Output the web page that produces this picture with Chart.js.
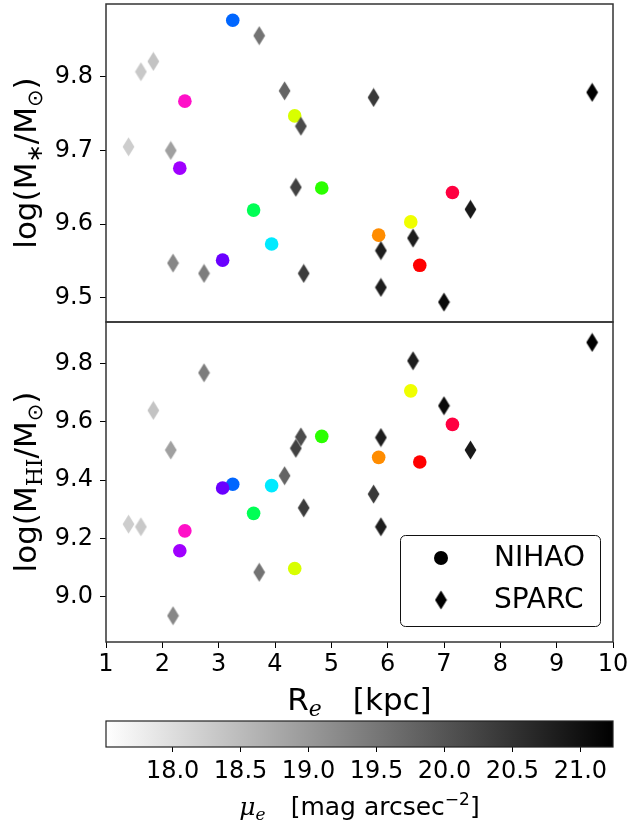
<!DOCTYPE html>
<html>
<head>
<meta charset="utf-8">
<script src="https://cdn.jsdelivr.net/npm/chart.js@4.4.1/dist/chart.umd.min.js"></script>
<style>
  html, body { margin: 0; padding: 0; background: #fff; }
  #wrap { position: relative; width: 631px; height: 823px; overflow: hidden; background: #fff; }
  #wrap canvas { position: absolute; left: 0; }
</style>
</head>
<body>
<div id="wrap">
  <canvas id="panelTop" width="631" height="330" style="top:0px"></canvas>
  <canvas id="panelBottom" width="631" height="420" style="top:300px"></canvas>
  <canvas id="colorBar" width="631" height="123" style="top:700px"></canvas>
</div>
<script>
// ---- NIHAO simulated galaxies ----
const nihaoRe      = [3.25, 2.40, 2.31, 3.07, 3.62, 3.94, 4.35, 4.83, 5.84, 6.41, 7.15, 6.57];
const nihaoLogMstar = [9.877, 9.767, 9.676, 9.551, 9.619, 9.573, 9.747, 9.649, 9.585, 9.603, 9.643, 9.544];
const nihaoLogMHI   = [9.386, 9.226, 9.158, 9.373, 9.286, 9.381, 9.097, 9.550, 9.478, 9.706, 9.591, 9.462];
const nihaoColors   = ['#0066ff', '#ff10c8', '#a000ff', '#6a00ff', '#00ff55', '#00eaff',
                       '#d8ff00', '#2aff00', '#ff8c00', '#f0ff00', '#ff0040', '#ff0000'];

// ---- SPARC observed galaxies ----
const sparcRe       = [1.40, 1.62, 1.84, 2.15, 2.19, 2.74, 3.72, 4.17, 4.46, 4.37, 4.51, 5.75, 5.88, 5.88, 6.45, 7.47, 7.00, 9.63];
const sparcLogMstar = [9.705, 9.807, 9.821, 9.700, 9.547, 9.533, 9.856, 9.781, 9.733, 9.650, 9.533, 9.772, 9.564, 9.514, 9.581, 9.620, 9.494, 9.779];
const sparcLogMHI   = [9.249, 9.240, 9.639, 9.503, 8.935, 9.768, 9.084, 9.415, 9.548, 9.509, 9.305, 9.352, 9.546, 9.240, 9.809, 9.503, 9.655, 9.872];
const sparcMuE      = [18.24, 18.31, 18.39, 18.90, 19.27, 19.41, 19.56, 19.78, 20.14, 20.29, 20.36, 20.40, 20.80, 20.80, 20.80, 20.87, 21.10, 21.24];

// ---- axes ----
const xTicks      = [1, 2, 3, 4, 5, 6, 7, 8, 9, 10];
const yTicksTop   = [9.5, 9.6, 9.7, 9.8];
const yTicksBot   = [9.0, 9.2, 9.4, 9.6, 9.8];
const muTicks     = [18.0, 18.5, 19.0, 19.5, 20.0, 20.5, 21.0];
const muRange     = [17.51, 21.24];
const legendNames = ['NIHAO', 'SPARC'];

const SANS  = "'DejaVu Sans', 'Liberation Sans', sans-serif";
const SERIF = "'DejaVu Serif', 'Liberation Serif', serif";
Chart.defaults.font.family = SANS;
Chart.defaults.color = '#000';

// reversed gray colour map: bright surfaces light, faint surfaces dark
function grayFor(mu) {
  let t = (mu - muRange[0]) / (muRange[1] - muRange[0]);
  t = Math.max(0, Math.min(1, t));
  const g = Math.round(255 * (1 - t));
  return `rgb(${g},${g},${g})`;
}

// thin diamond marker sprite
function diamondSprite(color) {
  const c = document.createElement('canvas');
  c.width = 13; c.height = 20;
  const g = c.getContext('2d');
  g.fillStyle = color;
  g.beginPath();
  g.moveTo(6.5, 0.6);
  g.lineTo(12.4, 10);
  g.lineTo(6.5, 19.4);
  g.lineTo(0.6, 10);
  g.closePath();
  g.fill();
  return c;
}

// text with sub/superscript runs, centred on (cx, cy)
function drawRich(ctx, parts, cx, cy, rotated) {
  ctx.save();
  ctx.translate(cx, cy);
  if (rotated) ctx.rotate(-Math.PI / 2);
  ctx.fillStyle = '#000';
  ctx.textBaseline = 'alphabetic';
  ctx.textAlign = 'left';
  let total = 0;
  const widths = parts.map(p => {
    if (p.gap) return p.gap;
    ctx.font = p.font;
    return ctx.measureText(p.t).width;
  });
  widths.forEach(w => total += w);
  let x = -total / 2;
  parts.forEach((p, i) => {
    if (!p.gap) {
      ctx.font = p.font;
      ctx.fillText(p.t, x, p.dy || 0);
    }
    x += widths[i];
  });
  ctx.restore();
}

const frame = {
  id: 'frame',
  beforeDatasetsDraw(chart) {
    const a = chart.chartArea, ctx = chart.ctx;
    ctx.save();
    ctx.strokeStyle = '#333';
    ctx.lineWidth = 1.5;
    ctx.strokeRect(a.left, a.top, a.right - a.left, a.bottom - a.top);
    ctx.restore();
  }
};

function yTitle(parts) {
  return {
    id: 'yTitle',
    afterDraw(chart) {
      const a = chart.chartArea;
      drawRich(chart.ctx, parts, 36, (a.top + a.bottom) / 2, true);
    }
  };
}

function panel(canvasId, yVals, sparcY, yMin, yMax, yTicks, showX, extraPlugins, pad) {
  const nihaoPts = nihaoRe.map((x, i) => ({ x, y: yVals[i] }));
  const sparcPts = sparcRe.map((x, i) => ({ x, y: sparcY[i] }));
  return new Chart(document.getElementById(canvasId), {
    type: 'scatter',
    data: {
      datasets: [
        {
          label: legendNames[0],
          data: nihaoPts,
          pointStyle: 'circle',
          pointRadius: 6.8,
          pointBackgroundColor: nihaoColors,
          pointBorderWidth: 0,
          order: 1
        },
        {
          label: legendNames[1],
          data: sparcPts,
          pointStyle: sparcMuE.map(mu => diamondSprite(grayFor(mu))),
          pointRadius: 6,
          pointBorderWidth: 0,
          order: 0
        }
      ]
    },
    options: {
      responsive: false,
      animation: false,
      devicePixelRatio: 1,
      events: [],
      layout: { padding: pad, autoPadding: false },
      plugins: { legend: { display: false }, tooltip: { enabled: false } },
      scales: {
        x: {
          type: 'linear', min: 1, max: 10, display: showX,
          afterBuildTicks: s => { s.ticks = xTicks.map(v => ({ value: v })); },
          afterFit: s => { s.height = showX ? 78 : 0; },
          ticks: { font: { size: 24 }, padding: 2, color: '#000', maxRotation: 0, autoSkip: false,
                   callback: v => String(v) },
          grid: { display: true, drawOnChartArea: false, drawTicks: true, tickLength: 6, color: '#000', lineWidth: 1 },
          border: { display: false }
        },
        y: {
          type: 'linear', min: yMin, max: yMax,
          afterBuildTicks: s => { s.ticks = yTicks.map(v => ({ value: v })); },
          afterFit: s => { s.width = 106; s.paddingTop = 0; s.paddingBottom = 0; },
          ticks: { font: { size: 24 }, padding: 7, color: '#000', autoSkip: false,
                   callback: v => v.toFixed(1) },
          grid: { display: true, drawOnChartArea: false, drawTicks: true, tickLength: 6, color: '#000', lineWidth: 1 },
          border: { display: false }
        }
      }
    },
    plugins: [frame].concat(extraPlugins)
  });
}

// upper panel: stellar mass
panel('panelTop', nihaoLogMstar, sparcLogMstar, 9.467, 9.899, yTicksTop, false,
  [yTitle([
    { t: 'log(M', font: `31px ${SANS}` },
    { t: '\u2217', font: `22px ${SANS}`, dy: 6 },
    { t: '/M', font: `31px ${SANS}` },
    { t: '\u2299', font: `21px ${SANS}`, dy: 6 },
    { t: ')', font: `31px ${SANS}` }
  ])],
  { top: 4, bottom: 8, left: 0, right: 18 });

// legend box in the lower-right corner of the lower panel
const cornerLegend = {
  id: 'cornerLegend',
  afterDraw(chart) {
    const a = chart.chartArea, ctx = chart.ctx;
    const w = 200, h = 91;
    const left = a.right - 13 - w, top = a.bottom - 16 - h;
    ctx.save();
    ctx.fillStyle = 'rgba(255,255,255,0.85)';
    ctx.strokeStyle = '#111';
    ctx.lineWidth = 1;
    ctx.beginPath();
    ctx.roundRect(left + 0.5, top + 0.5, w, h, 5);
    ctx.fill();
    ctx.stroke();
    const rows = chart.data.datasets.map(d => d.label);
    const mx = left + 41, tx = left + 94;
    const ys = [top + 23, top + 65];
    ctx.fillStyle = '#000';
    ctx.beginPath();
    ctx.arc(mx, ys[0], 7, 0, Math.PI * 2);
    ctx.fill();
    const d = diamondSprite('#000');
    ctx.drawImage(d, mx - d.width / 2, ys[1] - d.height / 2);
    ctx.font = `28px ${SANS}`;
    ctx.textBaseline = 'middle';
    ctx.textAlign = 'left';
    rows.forEach((r, i) => ctx.fillText(r, tx, ys[i] + 1));
    ctx.restore();
  }
};

const xTitle = {
  id: 'xTitle',
  afterDraw(chart) {
    const a = chart.chartArea;
    drawRich(chart.ctx, [
      { t: 'R', font: `31px ${SANS}` },
      { t: 'e', font: `italic 22px ${SERIF}`, dy: 6 },
      { gap: 31 },
      { t: '[kpc]', font: `31px ${SANS}` }
    ], (a.left + a.right) / 2, 710 - 300, false);
  }
};

// lower panel: HI mass
panel('panelBottom', nihaoLogMHI, sparcLogMHI, 8.845, 9.942, yTicksBot, true,
  [yTitle([
    { t: 'log(M', font: `31px ${SANS}` },
    { t: 'HI', font: `22px ${SERIF}`, dy: 6 },
    { t: '/M', font: `31px ${SANS}` },
    { t: '\u2299', font: `21px ${SANS}`, dy: 6 },
    { t: ')', font: `31px ${SANS}` }
  ]), cornerLegend, xTitle],
  { top: 22, bottom: 0, left: 0, right: 18 });

// colour bar for the effective surface brightness
const barFill = {
  id: 'barFill',
  beforeDatasetsDraw(chart) {
    const a = chart.chartArea, ctx = chart.ctx, xs = chart.scales.x;
    const x0 = xs.getPixelForValue(muRange[0]), x1 = xs.getPixelForValue(muRange[1]);
    const grad = ctx.createLinearGradient(x0, 0, x1, 0);
    grad.addColorStop(0, grayFor(muRange[0]));
    grad.addColorStop(1, grayFor(muRange[1]));
    ctx.save();
    ctx.fillStyle = grad;
    ctx.fillRect(a.left, a.top, a.right - a.left, a.bottom - a.top);
    ctx.strokeStyle = '#222';
    ctx.lineWidth = 1.2;
    ctx.strokeRect(a.left, a.top, a.right - a.left, a.bottom - a.top);
    ctx.restore();
  },
  afterDraw(chart) {
    const a = chart.chartArea;
    drawRich(chart.ctx, [
      { t: '\u03bc', font: `italic 25px ${SERIF}` },
      { t: 'e', font: `italic 17px ${SERIF}`, dy: 5 },
      { gap: 25 },
      { t: '[mag arcsec', font: `25px ${SANS}` },
      { t: '\u22122', font: `17px ${SANS}`, dy: -10 },
      { t: ']', font: `25px ${SANS}` }
    ], (a.left + a.right) / 2, 815 - 700, false);
  }
};

new Chart(document.getElementById('colorBar'), {
  type: 'scatter',
  data: { datasets: [] },
  options: {
    responsive: false,
    animation: false,
    devicePixelRatio: 1,
    events: [],
    layout: { padding: { top: 21, bottom: 0, left: 106, right: 18 }, autoPadding: false },
    plugins: { legend: { display: false }, tooltip: { enabled: false } },
    scales: {
      x: {
        type: 'linear', min: muRange[0], max: muRange[1],
        afterBuildTicks: s => { s.ticks = muTicks.map(v => ({ value: v })); },
        afterFit: s => { s.height = 76; },
        ticks: { font: { size: 24 }, padding: 5, color: '#000', maxRotation: 0, autoSkip: false,
                 callback: v => v.toFixed(1) },
        grid: { display: true, drawOnChartArea: false, drawTicks: true, tickLength: 5, color: '#000', lineWidth: 1 },
        border: { display: false }
      },
      y: { display: false, min: 0, max: 1 }
    }
  },
  plugins: [barFill]
});
</script>
</body>
</html>
